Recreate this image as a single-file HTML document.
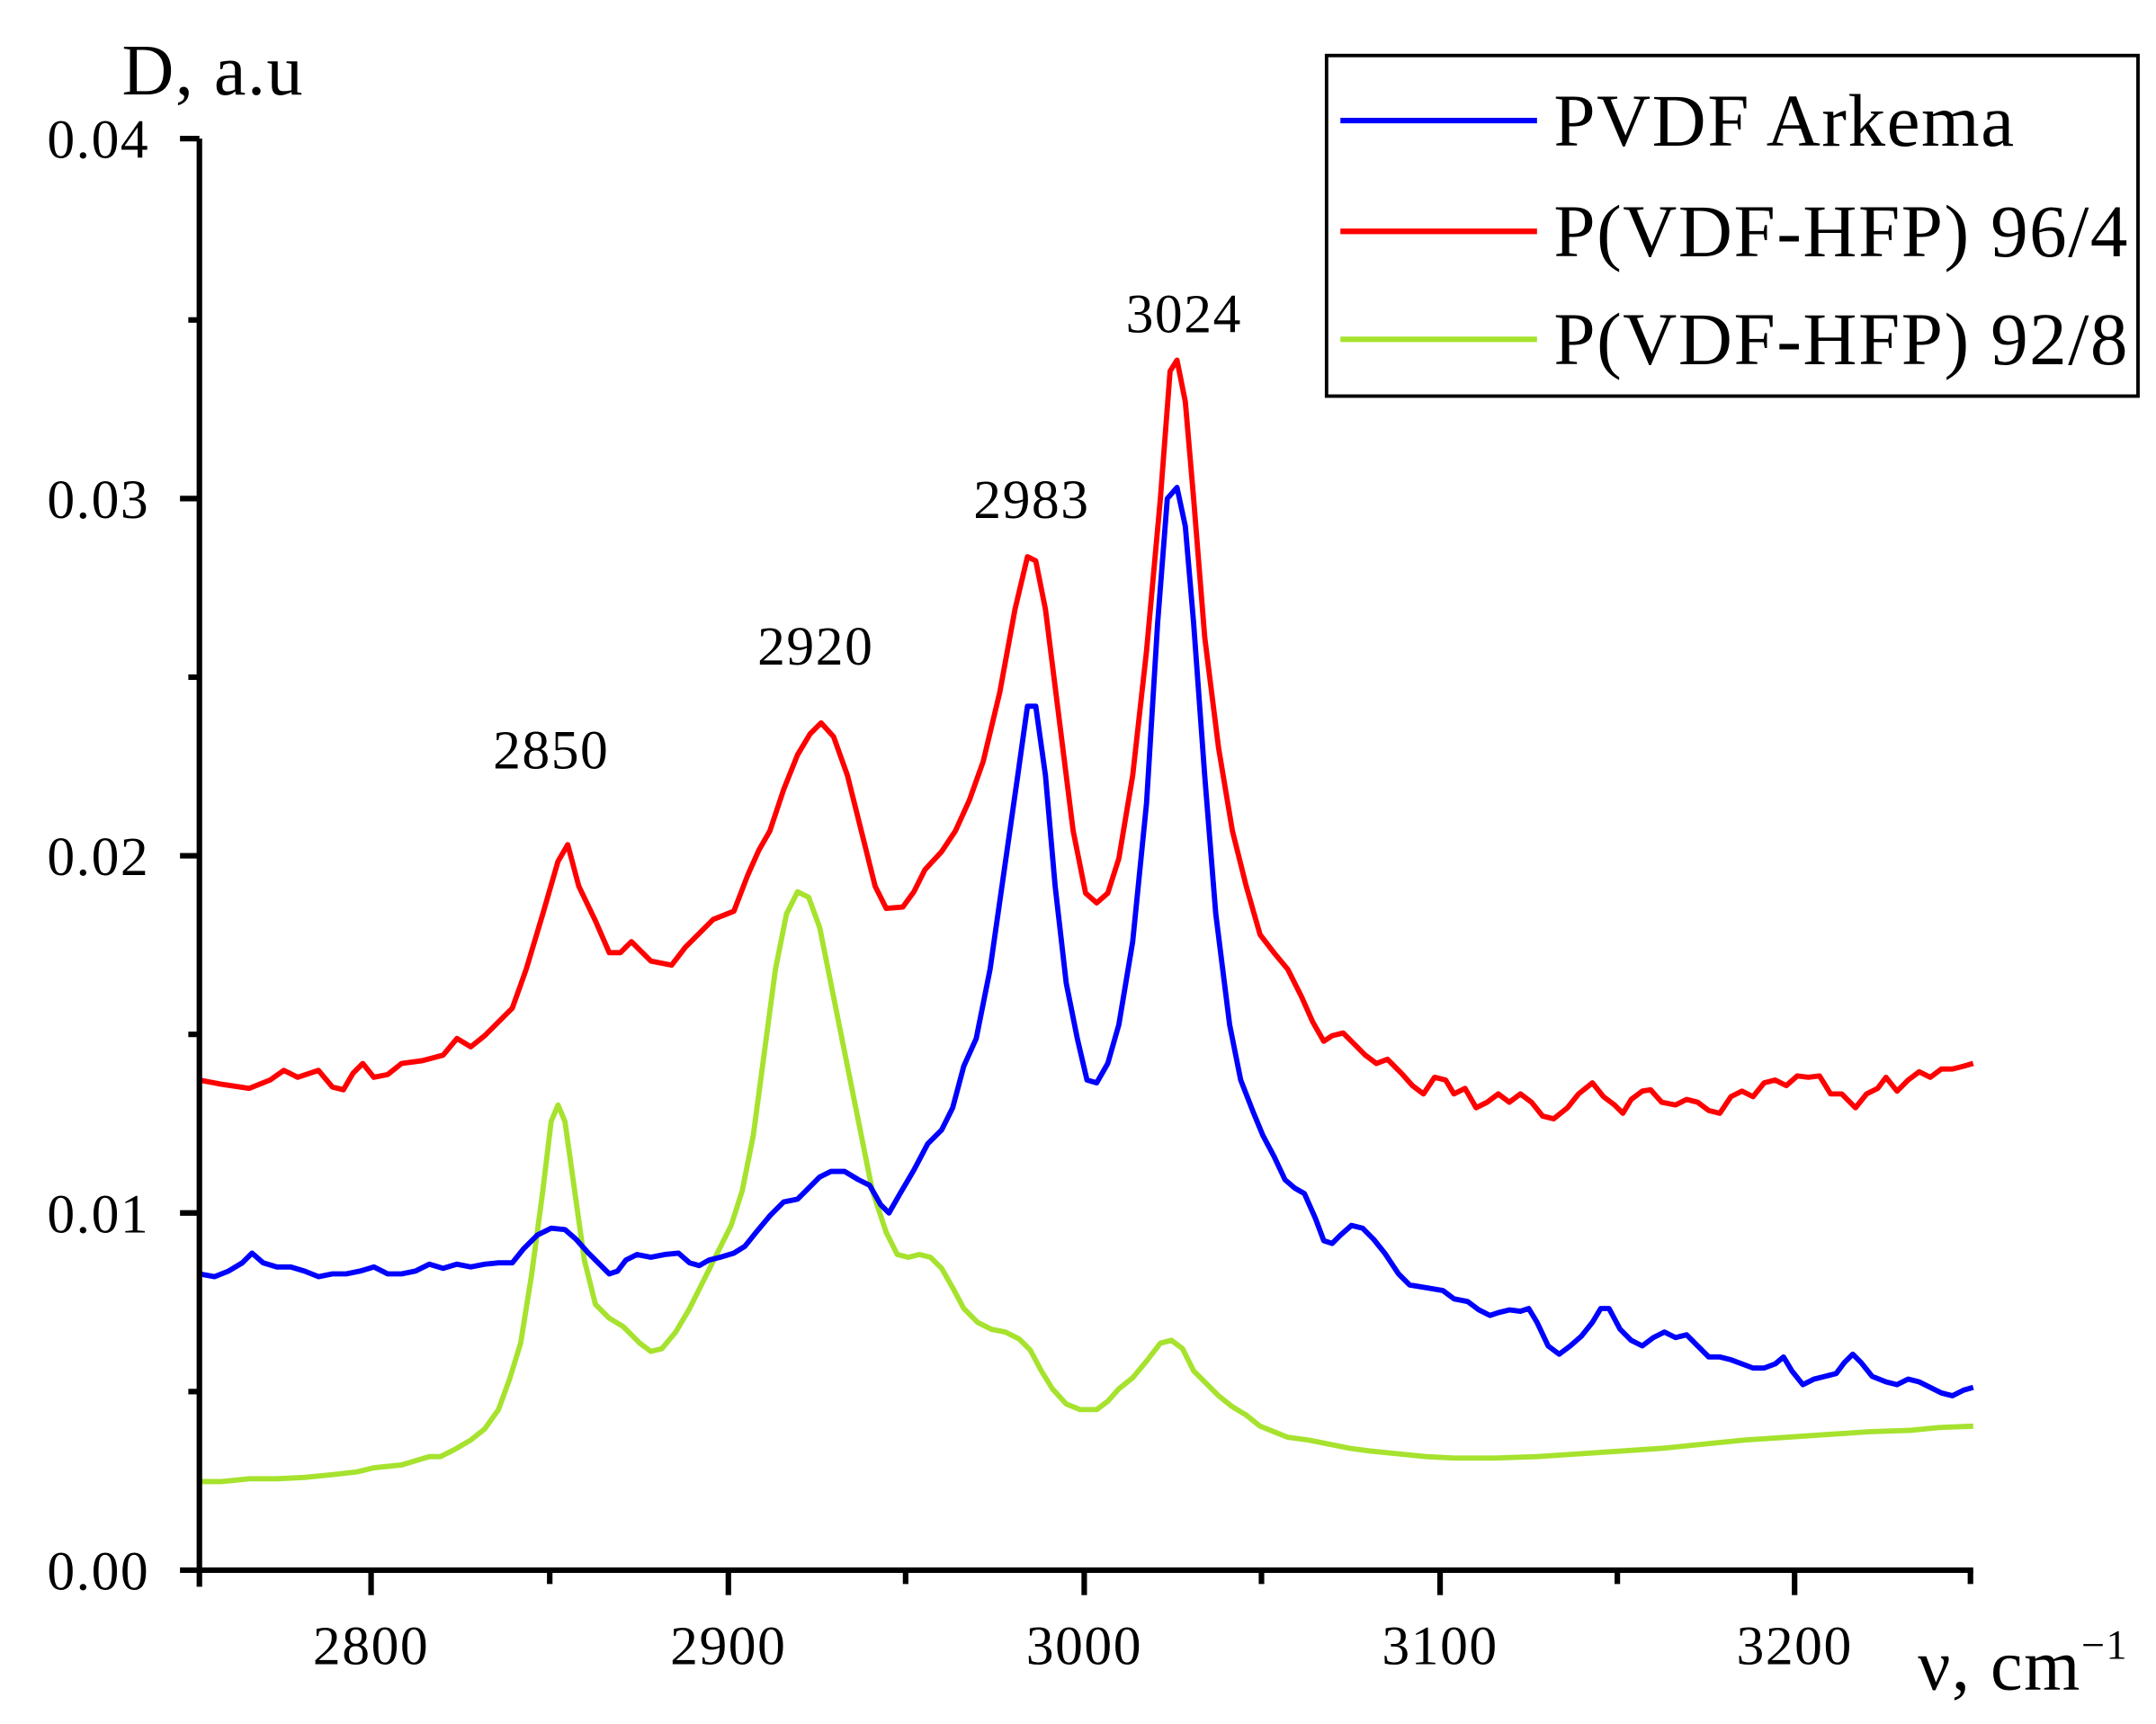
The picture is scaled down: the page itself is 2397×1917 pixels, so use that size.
<!DOCTYPE html>
<html><head><style>html,body{margin:0;padding:0;background:#fff}svg{display:block}</style></head>
<body>
<svg width="2397" height="1917" viewBox="0 0 1557 1245" xmlns="http://www.w3.org/2000/svg" font-family="Liberation Serif, serif">
<rect width="1557" height="1245" fill="#fff"/>
<g fill="none" stroke-width="3.8" stroke-linejoin="round">
<polyline stroke="#a6e22e" points="144,1070 160,1070 180,1068 200,1068 220,1067 240,1065 258,1063 270,1060 290,1058 300,1055 310,1052 318,1052 328,1047 340,1040 350,1032 360,1018 368,996 376,970 384,920 392,860 398,810 403,798 408,810 415,860 422,910 430,942 440,952 450,958 462,970 470,976 478,974 488,962 498,945 508,925 518,905 528,885 536,860 544,820 552,760 560,700 568,660 576,644 584,648 592,670 600,710 610,760 620,810 630,860 640,890 648,906 656,908 664,906 672,908 680,916 688,930 696,945 706,955 716,960 726,962 736,967 744,975 752,990 760,1003 770,1014 780,1018 792,1018 800,1012 808,1003 818,995 828,983 838,970 846,968 854,974 862,990 872,1000 880,1008 890,1016 900,1022 910,1030 920,1034 930,1038 945,1040 960,1043 975,1046 990,1048 1010,1050 1030,1052 1050,1053 1080,1053 1110,1052 1140,1050 1170,1048 1200,1046 1230,1043 1260,1040 1290,1038 1320,1036 1350,1034 1380,1033 1400,1031 1425,1030"/>
<polyline stroke="#0000ff" points="144,920 155,922 165,918 175,912 182,905 190,912 200,915 210,915 220,918 230,922 240,920 250,920 260,918 270,915 280,920 290,920 300,918 310,913 320,916 330,913 340,915 350,913 360,912 370,912 378,902 388,892 398,887 408,888 416,895 425,905 432,912 440,920 446,918 452,910 460,906 470,908 480,906 490,905 498,912 505,914 512,910 520,908 530,905 538,900 546,890 556,878 566,868 576,866 584,858 592,850 600,846 610,846 620,852 628,856 636,870 642,876 650,862 660,845 670,826 680,816 688,800 696,770 705,750 715,700 725,630 735,560 742,510 748,510 755,560 762,640 770,710 778,750 785,780 792,782 800,768 808,740 818,680 828,580 836,450 843,360 850,352 856,380 862,450 870,560 878,660 888,740 896,780 905,803 912,820 920,835 928,852 935,858 942,862 950,880 956,896 962,898 968,892 976,885 984,887 992,895 1000,905 1010,920 1018,928 1030,930 1042,932 1050,938 1060,940 1068,946 1076,950 1082,948 1090,946 1098,947 1104,945 1110,955 1118,972 1126,978 1134,972 1142,965 1150,955 1156,945 1162,945 1170,960 1178,968 1186,972 1194,966 1202,962 1210,966 1218,964 1226,972 1234,980 1242,980 1250,982 1258,985 1266,988 1274,988 1282,985 1288,980 1294,990 1302,1000 1310,996 1318,994 1326,992 1332,984 1338,978 1344,984 1352,994 1362,998 1370,1000 1378,996 1386,998 1394,1002 1402,1006 1410,1008 1418,1004 1425,1002"/>
<polyline stroke="#ff0000" points="144,780 160,783 180,786 195,780 205,773 215,778 230,773 240,785 248,787 255,775 262,768 270,778 280,776 290,768 305,766 320,762 330,750 340,756 350,748 360,738 370,728 380,700 392,660 403,622 410,610 418,640 430,665 440,688 448,688 456,680 462,686 470,694 485,697 495,684 505,674 515,664 525,660 530,658 540,632 548,614 556,600 566,570 576,545 585,530 593,522 602,532 612,560 622,600 632,640 640,656 652,655 660,644 668,628 680,615 690,600 700,578 710,550 722,500 733,440 742,402 748,405 755,440 765,520 775,600 784,645 792,652 800,645 808,620 818,560 828,470 838,360 845,268 850,260 856,290 862,360 870,460 880,540 890,600 900,640 910,675 920,688 930,700 940,720 948,738 956,752 962,748 970,746 978,754 986,762 994,768 1002,765 1012,775 1020,784 1028,790 1036,778 1044,780 1050,790 1058,786 1066,800 1074,796 1082,790 1090,796 1098,790 1106,796 1114,806 1122,808 1132,800 1140,790 1150,782 1158,792 1166,798 1172,804 1178,794 1186,788 1192,787 1200,796 1210,798 1218,794 1226,796 1234,802 1242,804 1250,792 1258,788 1266,792 1274,782 1282,780 1290,784 1298,777 1306,778 1314,777 1322,790 1330,790 1340,800 1348,790 1356,786 1362,778 1370,788 1378,780 1386,774 1394,778 1402,772 1410,772 1418,770 1425,768"/>
</g>
<g stroke="#000" stroke-width="4" fill="none">
<line x1="144" y1="100" x2="144" y2="1146"/>
<line x1="130" y1="1134" x2="1425" y2="1134"/>
<line x1="130" y1="100" x2="144" y2="100"/>
<line x1="130" y1="360" x2="144" y2="360"/>
<line x1="130" y1="618" x2="144" y2="618"/>
<line x1="130" y1="876" x2="144" y2="876"/>
<line x1="136" y1="231" x2="144" y2="231"/>
<line x1="136" y1="489" x2="144" y2="489"/>
<line x1="136" y1="747" x2="144" y2="747"/>
<line x1="136" y1="1005" x2="144" y2="1005"/>
<line x1="268" y1="1134" x2="268" y2="1152"/>
<line x1="526" y1="1134" x2="526" y2="1152"/>
<line x1="783" y1="1134" x2="783" y2="1152"/>
<line x1="1040" y1="1134" x2="1040" y2="1152"/>
<line x1="1296" y1="1134" x2="1296" y2="1152"/>
<line x1="397" y1="1134" x2="397" y2="1144"/>
<line x1="654" y1="1134" x2="654" y2="1144"/>
<line x1="911" y1="1134" x2="911" y2="1144"/>
<line x1="1168" y1="1134" x2="1168" y2="1144"/>
<line x1="1423" y1="1134" x2="1423" y2="1144"/>
</g>
<g font-size="40" fill="#000" letter-spacing="1">
<g text-anchor="end">
<text x="108" y="114">0.04</text>
<text x="108" y="374">0.03</text>
<text x="108" y="632">0.02</text>
<text x="108" y="890">0.01</text>
<text x="108" y="1148">0.00</text>
</g>
<g text-anchor="middle">
<text x="268" y="1202">2800</text>
<text x="526" y="1202">2900</text>
<text x="783" y="1202">3000</text>
<text x="1040" y="1202">3100</text>
<text x="1296" y="1202">3200</text>
<text x="398" y="555">2850</text>
<text x="589" y="480">2920</text>
<text x="745" y="374">2983</text>
<text x="855" y="240">3024</text>
</g>
<text x="88" y="68" font-size="52">D, a.u</text>
<text x="1385" y="1220" font-size="52">ν, cm<tspan font-size="30" dy="-22">−1</tspan></text>
</g>
<rect x="958" y="40" width="586" height="246" fill="#fff" stroke="#000" stroke-width="2.5"/>
<g stroke-width="4">
<line x1="968" y1="87" x2="1110" y2="87" stroke="#0000ff"/>
<line x1="968" y1="167" x2="1110" y2="167" stroke="#ff0000"/>
<line x1="968" y1="245" x2="1110" y2="245" stroke="#a6e22e"/>
</g>
<g font-size="54" fill="#000" letter-spacing="1">
<text x="1122" y="105">PVDF Arkema</text>
<text x="1122" y="185">P(VDF-HFP) 96/4</text>
<text x="1122" y="263">P(VDF-HFP) 92/8</text>
</g>
</svg>
</body></html>
